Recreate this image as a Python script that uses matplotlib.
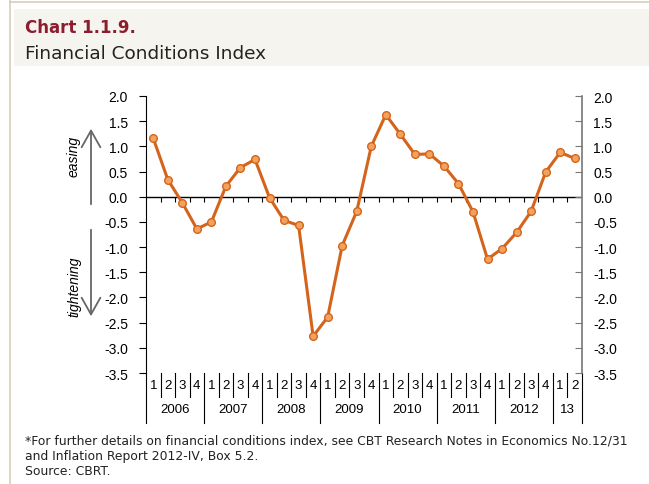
import matplotlib

matplotlib.use("Agg")
import matplotlib.pyplot as plt
import matplotlib.transforms as mtransforms
import numpy as np
from matplotlib.patches import Rectangle, FancyArrowPatch

# quarterly index, 2006Q1 .. 2013Q2
fci = [1.16, 0.34, -0.12, -0.64, -0.50, 0.21, 0.58, 0.74,
       -0.02, -0.47, -0.57, -2.77, -2.39, -0.97, -0.29, 1.00,
       1.63, 1.24, 0.84, 0.85, 0.61, 0.26, -0.30, -1.24,
       -1.03, -0.71, -0.29, 0.49, 0.88, 0.76]
quarters = ["1", "2", "3", "4"] * 7 + ["1", "2"]
years = ["2006", "2007", "2008", "2009", "2010", "2011", "2012", "13"]
year_len = [4, 4, 4, 4, 4, 4, 4, 2]
yticks = [2.0, 1.5, 1.0, 0.5, 0.0, -0.5, -1.0, -1.5, -2.0, -2.5, -3.0, -3.5]

W, H = 649, 485
LINE = "#d4641c"
MFACE = "#f2a25c"
TAN = "#d9cdb8"
TICKFONT = "Liberation Sans"
TEXTFONT = "DejaVu Sans"

fig = plt.figure(figsize=(W / 100, H / 100), dpi=100)
fig.patch.set_facecolor("white")

# page frame + header band
fig.add_artist(plt.Line2D([10 / W, 10 / W], [0, 1], color=TAN, lw=1.2))
fig.add_artist(plt.Line2D([10 / W, 1], [1 - 3 / H, 1 - 3 / H], color=TAN, lw=1.2))
fig.add_artist(Rectangle((14 / W, 1 - 67 / H), 1 - 14 / W, 57 / H,
                         transform=fig.transFigure, color="#f6f4ef", lw=0))
fig.text(25 / W, 1 - 28 / H, "Chart 1.1.9.", color="#8c1d2e", fontsize=12,
         fontweight="bold", family=TEXTFONT, va="center")
fig.text(25 / W, 1 - 54 / H, "Financial Conditions Index", color="#222222",
         fontsize=13.3, family=TEXTFONT, va="center")

# plot area
x0, x1, y0, y1 = 146, 582, 374, 97
ax = fig.add_axes([x0 / W, 1 - y0 / H, (x1 - x0) / W, (y0 - y1) / H])
n = len(fci)
x = np.arange(n) + 0.5
ax.set_xlim(0, n)
ax.set_ylim(-3.5, 2.0)
ax.set_yticks(yticks)
ax.set_yticklabels([f"{v:.1f}" for v in yticks], family=TICKFONT, fontsize=10)
ax.tick_params(axis="y", direction="out", length=5, width=0.8, pad=8)
ax.set_xticks([])
for s in ["top", "bottom", "right"]:
    ax.spines[s].set_visible(False)
ax.spines["left"].set_linewidth(0.8)

# right axis duplicate
axr = ax.twinx()
axr.set_ylim(-3.5, 2.0)
axr.set_yticks(yticks)
axr.set_yticklabels([f"{v:.1f}" for v in yticks], family=TICKFONT, fontsize=10)
axr.tick_params(axis="y", direction="in", length=5, width=0.8, color="#777777", pad=8)
for s in ["top", "bottom", "left"]:
    axr.spines[s].set_visible(False)
axr.spines["right"].set_color("#777777")
axr.spines["right"].set_linewidth(1.2)

# zero line with category ticks
ax.axhline(0, color="black", lw=1.0, zorder=2)
ax.vlines(np.arange(1, n + 1), -0.1, 0, color="black", lw=0.8, zorder=2)

ax.plot(x, fci, color=LINE, lw=2.2, marker="o", ms=5.5, mfc=MFACE,
        mec=LINE, mew=1.0, zorder=3)

# two-level category axis
tr = mtransforms.blended_transform_factory(ax.transData, ax.transAxes)
ah = y0 - y1
q_low = -(398 - y0) / ah
y_low = -(424 - y0) / ah
for i, q in enumerate(quarters):
    ax.text(i + 0.5, -(386 - y0) / ah, q, transform=tr, ha="center", va="center",
            family=TICKFONT, fontsize=9.5, clip_on=False)
bounds = np.cumsum([0] + year_len)
for b in range(n + 1):
    low = y_low if b in bounds else q_low
    ax.plot([b, b], [0, low], transform=tr, color="black", lw=0.8, clip_on=False)
for yl, a, b in zip(years, bounds[:-1], bounds[1:]):
    ax.text((a + b) / 2, -(410 - y0) / ah, yl, transform=tr, ha="center",
            va="center", family=TICKFONT, fontsize=9.5, clip_on=False)

# easing / tightening arrows
for ya, yb in [(208, 127), (228, 320)]:
    fig.add_artist(FancyArrowPatch(
        (91 / W, 1 - ya / H), (91 / W, 1 - yb / H), transform=fig.transFigure,
        arrowstyle="->,head_length=0.8,head_width=0.45", color="#666666", lw=1.3,
        mutation_scale=15))
fig.text(74 / W, 1 - 156 / H, "easing", rotation=90, ha="center", va="center",
         style="italic", family=TICKFONT, fontsize=10)
fig.text(74 / W, 1 - 287 / H, "tightening", rotation=90, ha="center", va="center",
         style="italic", family=TICKFONT, fontsize=10)

# footnote
notes = ["*For further details on financial conditions index, see CBT Research Notes in Economics No.12/31",
         "and Inflation Report 2012-IV, Box 5.2.",
         "Source: CBRT."]
for k, t in enumerate(notes):
    fig.text(25 / W, 1 - (441 + 15.5 * k) / H, t, fontsize=8.9, family=TEXTFONT,
             color="#222222", va="center")

fig.savefig("out.png", dpi=100)
